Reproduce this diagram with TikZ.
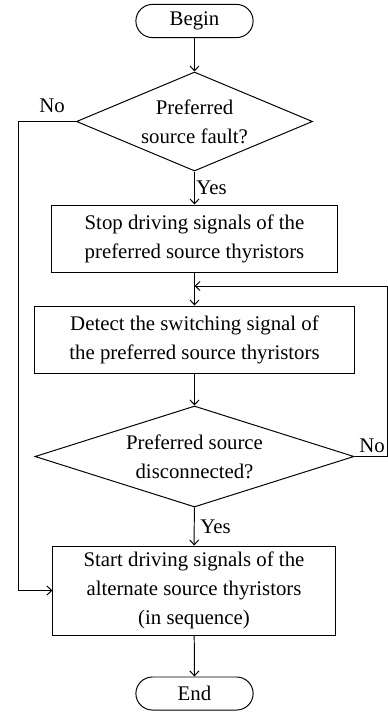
\documentclass[tikz,border=0pt]{standalone}
\usepackage{fontspec}
\setmainfont{Liberation Serif}
\usetikzlibrary{shapes.geometric,shapes.misc,arrows.meta}
\tikzset{
  flow/.style={draw,line width=0.7pt,align=center,inner sep=1pt,font=\fontsize{14.8}{20.5}\selectfont},
  terminal/.style={flow,rounded rectangle,minimum width=3cm,minimum height=0.83cm},
  stepbox/.style={flow,rectangle,minimum height=1.675cm},
  decision/.style={flow,diamond,aspect=2.4,inner sep=0pt},
  link/.style={line width=0.7pt,-{Straight Barb[length=3.5pt,width=6.5pt]}},
  answer/.style={font=\fontsize{14.8}{18}\selectfont,inner sep=1pt}
}
\begin{document}
\begin{tikzpicture}[x=0.025cm,y=-0.025cm]
                \useasboundingbox (0,0) rectangle (388,712);
                \node[terminal] (begin) at (194.5,21) {Begin};
                \node[decision,minimum width=5.9cm,minimum height=2.475cm] (fault) at (194.5,121.5) {Preferred\\source fault?};
                \node[stepbox,minimum width=7.125cm] (stop) at (194.5,238.5) {Stop driving signals of the\\preferred source thyristors};
                \node[stepbox,minimum width=7.975cm] (detect) at (194.5,339.5) {Detect the switching signal of\\the preferred source thyristors};
                \node[decision,minimum width=7.975cm,minimum height=2.525cm] (disc) at (194.5,456.5) {Preferred source\\disconnected?};
                \node[stepbox,minimum width=7.05cm,minimum height=2.225cm] (start) at (194,590.5) {Start driving signals of the\\alternate source thyristors\\(in sequence)};
                \node[terminal,minimum height=0.825cm] (end) at (194.5,693.5) {End};
                \coordinate (back) at (194.5,286);
                \draw[link] (begin)--(fault);
                \draw[link] (fault)--(stop) node[midway,right,answer] {Yes};
                \draw[link] (stop)--(detect);
                \draw[link] (detect)--(disc);
                \draw[link] (disc)--(start) node[midway,right,answer,xshift=3pt] {Yes};
                \draw[link] (start)--(end);
                \draw[link] (fault.west)--(18,121.5)--(18,590.5)--(start.west);
                \draw[link] (disc.east)--(387.5,456.5)--(387.5,286)--(back);
                \node[answer] (nofault) at (52,106) {No};
                \node[answer] (nodisc) at (372,446) {No};
            \end{tikzpicture}
\end{document}
